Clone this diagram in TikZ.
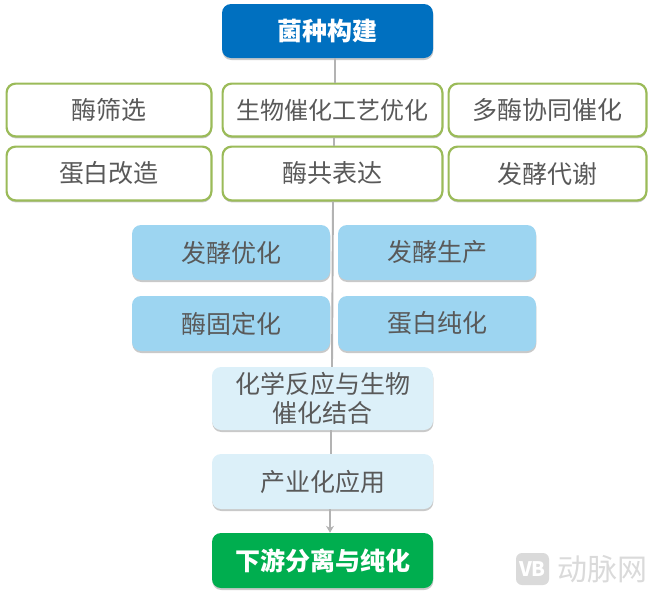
\documentclass[tikz,border=0pt]{standalone}
\usepackage{fontspec}
\setmainfont{Noto Sans CJK SC}
\usepackage{tikz}
\usetikzlibrary{arrows.meta,shadows}
\definecolor{txtgray}{HTML}{595959}
\definecolor{topblue}{HTML}{0070C0}
\definecolor{edgegreen}{HTML}{9BBB59}
\definecolor{midblue}{HTML}{9DD5F1}
\definecolor{paleblue}{HTML}{DCF0F9}
\definecolor{endgreen}{HTML}{00AE4F}
\definecolor{linegray}{HTML}{B3B3B3}
\definecolor{markgray}{HTML}{DADADA}
\tikzset{
    basebox/.style={rounded corners=9pt, inner sep=0pt, align=center, text=txtgray, font=\fontsize{25}{30}\selectfont,
        drop shadow={shadow xshift=0.3pt, shadow yshift=-2pt, opacity=0.3, fill=black!70}},
    outlinebox/.style args={#1/#2}{basebox, draw=edgegreen, line width=2.2pt, fill=white, minimum width=#1pt-2.2pt, minimum height=#2pt-2.2pt},
    fillbox/.style args={#1/#2/#3}{basebox, fill=#1, minimum width=#2pt, minimum height=#3pt},
    headbox/.style args={#1/#2/#3}{fillbox={#1/#2/#3}, text=white, font=\fontsize{25}{30}\selectfont\bfseries},
    link/.style={draw=linegray, line width=1.9pt}
}
\begin{document}
\begin{tikzpicture}[x=1pt,y=1pt,>={Stealth[length=7pt,width=8pt]}]
\useasboundingbox (0,0) rectangle (657,-595);
% top and bottom
\node[headbox={topblue/211/54}] (strain) at (327.5,-31) {菌种构建};
\node[headbox={endgreen/221/55}] (downstream) at (322.5,-560.5) {下游分离与纯化};
% green outlined rows
\node[outlinebox={207/55}] (screen) at (109,-110) {酶筛选};
\node[outlinebox={222/55}] (process) at (332.5,-110) {\fontsize{24}{30}\selectfont 生物催化工艺优化};
\node[outlinebox={200/55}] (multi) at (547.5,-110) {多酶协同催化};
\node[outlinebox={207/56}] (modify) at (109,-173.5) {蛋白改造};
\node[outlinebox={222/56}] (coexpr) at (332.5,-173.5) {酶共表达};
\node[outlinebox={200/56}] (ferment) at (547.5,-173.5) {发酵代谢};
% blue boxes
\node[fillbox={midblue/198/55}] (fermopt) at (231,-252.5) {发酵优化};
\node[fillbox={midblue/198/55}] (fermprod) at (437,-252.5) {发酵生产};
\node[fillbox={midblue/198/55}] (immob) at (231,-323.5) {酶固定化};
\node[fillbox={midblue/198/55}] (purify) at (437,-323.5) {蛋白纯化};
% pale boxes
\node[fillbox={paleblue/221/63}] (chem) at (322.5,-398.5) {化学反应与生物\\[-1.5pt]催化结合};
\node[fillbox={paleblue/221/55}] (appl) at (322.5,-481.5) {产业化应用};
% connectors
\draw[link] ([xshift=7.5pt]strain.south) -- ([xshift=2.5pt]process.north);
\draw[link] ([xshift=1.5pt]process.south) -- ([xshift=1.5pt]coexpr.north);
\draw[link] ([xshift=0.5pt]coexpr.south) -- ([xshift=9.5pt]chem.north);
\draw[link] ([xshift=8.5pt]chem.south) -- ([xshift=8.5pt]appl.north);
\draw[link,->] ([xshift=7.5pt]appl.south) -- ([xshift=7.5pt]downstream.north);
% watermark
\node[fill=markgray, rounded corners=6pt, minimum width=33pt, minimum height=32pt, inner sep=0pt, text=white, font=\fontsize{20}{20}\selectfont\bfseries] (logo) at (532.5,-569) {VB};
\node[anchor=west, inner sep=0pt, text=markgray, font=\fontsize{30}{30}\selectfont] (mark) at (557,-569) {动脉网};
\end{tikzpicture}
\end{document}
